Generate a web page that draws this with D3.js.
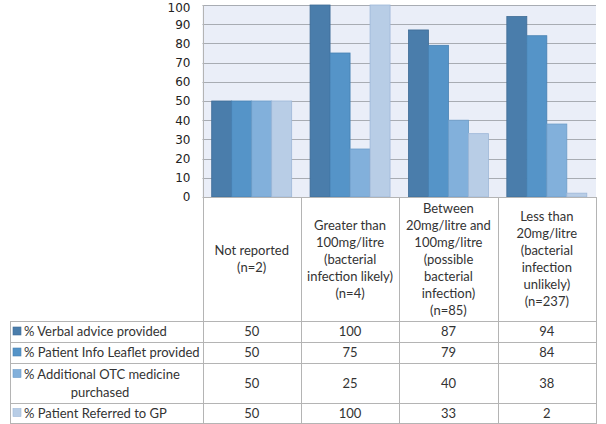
<!DOCTYPE html>
<html><head><meta charset="utf-8">
<script src="https://cdn.jsdelivr.net/npm/d3@7/dist/d3.min.js"></script>
<style>html,body{margin:0;padding:0;background:#fff;}svg{display:block;}</style>
</head><body><svg id="c" width="606" height="424"></svg>
<script>
const categories = ["Not reported (n=2)", "Greater than 100mg/litre (bacterial infection likely) (n=4)", "Between 20mg/litre and 100mg/litre (possible bacterial infection) (n=85)", "Less than 20mg/litre (bacterial infection unlikely) (n=237)"];
const categoryLines = [
  ["Not reported", "(n=2)"],
  ["Greater than", "100mg/litre", "(bacterial", "infection likely)", "(n=4)"],
  ["Between", "20mg/litre and", "100mg/litre", "(possible", "bacterial", "infection)", "(n=85)"],
  ["Less than", "20mg/litre", "(bacterial", "infection", "unlikely)", "(n=237)"]
];
const seriesNames = ["% Verbal advice provided", "% Patient Info Leaflet provided", "% Additional OTC medicine purchased", "% Patient Referred to GP"];
const verbalAdvice = [50, 100, 87, 94];
const infoLeaflet = [50, 75, 79, 84];
const otcPurchased = [50, 25, 40, 38];
const referredGP = [50, 100, 33, 2];
const seriesValues = [verbalAdvice, infoLeaflet, otcPurchased, referredGP];
const yTicks = [0, 10, 20, 30, 40, 50, 60, 70, 80, 90, 100];
const colors = ["#4a7dab", "#5594c8", "#82b0db", "#b8cde6"];
const strokes = ["#3e6b96", "#4680b2", "#6c9cc8", "#9db7d8"];

const svg = d3.select("#c");
const L = 202.5, R = 596, T = 5, B = 197;
const tableFont = "Lato, 'Open Sans', sans-serif";
const textC = "#333";

const x0 = d3.scaleBand().domain(d3.range(categories.length)).range([L, R]).paddingInner(0).paddingOuter(0);
const x1 = d3.scaleBand().domain(d3.range(seriesNames.length)).range([0, x0.bandwidth()]).paddingInner(0).paddingOuter(0.46);
const y = d3.scaleLinear().domain([0, 100]).range([B, T]);

// plot background
svg.append("rect").attr("x", L).attr("y", T).attr("width", R - L).attr("height", B - T).attr("fill", "#eaeef8");

// gridlines
svg.append("g").selectAll("line").data(yTicks.filter(d => d > 0)).join("line")
  .attr("x1", L).attr("x2", R).attr("y1", d => Math.round(y(d)) + 0.5).attr("y2", d => Math.round(y(d)) + 0.5)
  .attr("stroke", "#a8acb3").attr("stroke-width", 1);

// y axis labels
const yAxis = d3.axisLeft(y).tickValues(yTicks).tickSize(0).tickPadding(12);
const ya = svg.append("g").attr("transform", `translate(${L},0)`).call(yAxis);
ya.select(".domain").remove();
ya.selectAll("text").attr("font-family", "'DejaVu Sans', Verdana, sans-serif").attr("font-size", 12).attr("fill", "#222")
  .attr("dy", d => d === 100 ? "0.5em" : "0.32em");

// bars
seriesValues.forEach((vals, s) => {
  svg.append("g").selectAll("rect").data(vals).join("rect")
    .attr("x", (d, i) => x0(i) + x1(s))
    .attr("y", d => y(d))
    .attr("width", x1.bandwidth())
    .attr("height", d => B - y(d))
    .attr("fill", colors[s]).attr("stroke", strokes[s]).attr("stroke-width", 0.8);
});

// table structure
const gridC = "#b4b4b4";
const rowLines = [321, 342, 363, 403, 423];
const tbl = svg.append("g");
const vx = d3.range(categories.length + 1).map(i => i < categories.length ? x0(i) : R);
tbl.selectAll("line.v").data(vx).join("line").attr("class", "v")
  .attr("x1", d => Math.round(d) + 0.5).attr("x2", d => Math.round(d) + 0.5)
  .attr("y1", (d, i) => i === 0 ? T : B).attr("y2", 423.5)
  .attr("stroke", gridC);
tbl.append("line").attr("x1", 10.5).attr("x2", 10.5).attr("y1", 321).attr("y2", 423.5).attr("stroke", gridC);
tbl.selectAll("line.h").data(rowLines).join("line").attr("class", "h")
  .attr("x1", 10).attr("x2", R + 1).attr("y1", d => d + 0.5).attr("y2", d => d + 0.5).attr("stroke", gridC);
tbl.append("line").attr("x1", L).attr("x2", R + 1).attr("y1", B + 0.5).attr("y2", B + 0.5).attr("stroke", gridC);

// category header text
const lineH = 17, headerMid = 259;
categoryLines.forEach((lines, i) => {
  const cx = x0(i) + x0.bandwidth() / 2;
  const start = headerMid - (lines.length - 1) * lineH / 2;
  svg.append("g").selectAll("text").data(lines).join("text")
    .attr("x", cx).attr("y", (d, k) => start + k * lineH).attr("dy", "0.35em")
    .attr("text-anchor", "middle").attr("font-family", tableFont).attr("font-size", 13).attr("fill", textC)
    .text(d => d);
});

// legend + values
const rowCenters = rowLines.slice(0, -1).map((d, k) => (d + rowLines[k + 1]) / 2);
seriesNames.forEach((name, s) => {
  const cy = rowCenters[s];
  const my = s === 2 ? cy - 9 : cy;
  svg.append("rect").attr("x", 13).attr("y", my - 4.5).attr("width", 8).attr("height", 8)
    .attr("fill", colors[s]).attr("stroke", strokes[s]).attr("stroke-width", 0.6);
  if (s === 2) {
    svg.append("text").attr("x", 24).attr("y", cy - 9).attr("dy", "0.35em")
      .attr("font-family", tableFont).attr("font-size", 13).attr("fill", textC).text("% Additional OTC medicine");
    svg.append("text").attr("x", 100).attr("y", cy + 9).attr("dy", "0.35em").attr("text-anchor", "middle")
      .attr("font-family", tableFont).attr("font-size", 13).attr("fill", textC).text("purchased");
  } else {
    svg.append("text").attr("x", 24).attr("y", cy).attr("dy", "0.35em")
      .attr("font-family", tableFont).attr("font-size", 13).attr("fill", textC).text(name);
  }
  svg.append("g").selectAll("text").data(seriesValues[s]).join("text")
    .attr("x", (d, i) => x0(i) + x0.bandwidth() / 2).attr("y", cy).attr("dy", "0.35em")
    .attr("text-anchor", "middle").attr("font-family", tableFont).attr("font-size", 13).attr("fill", textC)
    .text(d => d);
});
</script></body></html>
